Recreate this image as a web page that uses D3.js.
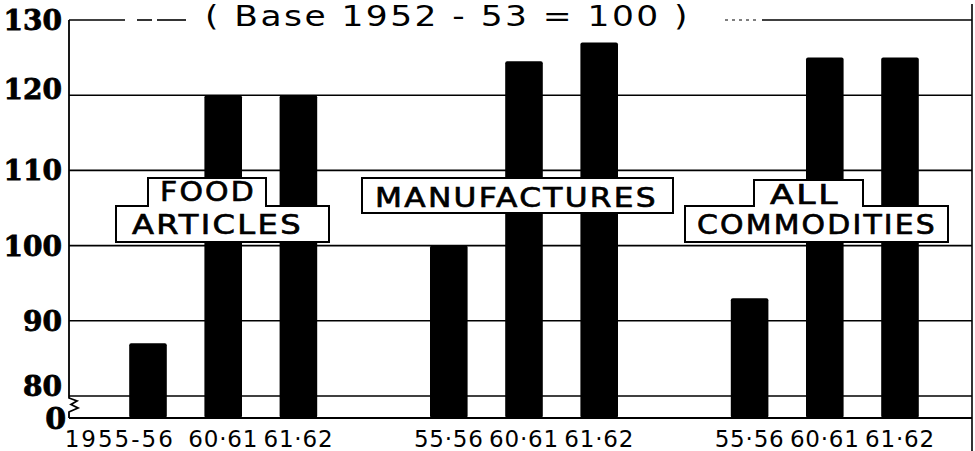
<!DOCTYPE html>
<html><head><meta charset="utf-8">
<script src="https://cdn.jsdelivr.net/npm/d3@7"></script>
<style>body{margin:0;background:#fff}svg{display:block}</style>
</head><body>
<svg id="chart" width="975" height="451"></svg>
<script>
// ---- data ----
const groups = ["Food Articles", "Manufactures", "All Commodities"];
const tickLabels = ["1955-56", "60·61", "61·62", "55·56", "60·61", "61·62", "55·56", "60·61", "61·62"];
const foodArticles = [87, 120, 120];
const manufactures = [100, 124.5, 127];
const allCommodities = [93, 125, 125];
const yTickValues = [80, 90, 100, 110, 120, 130];
const titleText = "( Base  1952 - 53 = 100 )";

(function () {
const series = [foodArticles, manufactures, allCommodities];
const keys = [], bars = [];
series.forEach((vals, g) => {
  if (g > 0) keys.push("gap" + g);
  vals.forEach((v, i) => {
    const k = g + "-" + i;
    keys.push(k);
    bars.push({ key: k, value: v, label: tickLabels[g * 3 + i], group: groups[g] });
  });
});

// ---- layout ----
const svg = d3.select("#chart");
const leftX = 69, rightX = 972, topY = 20, y80 = 396, baseY = 418;
const x = d3.scaleBand().domain(keys).range([110.4, 937.6]).paddingInner(0.5).paddingOuter(0.25);
const y = d3.scaleLinear().domain([80, 130]).range([y80, topY]);

// gridlines (80..120)
svg.append("g").selectAll("line").data(yTickValues.filter(v => v < 130)).join("line")
  .attr("x1", leftX).attr("x2", rightX).attr("y1", d => y(d)).attr("y2", d => y(d))
  .attr("stroke", "#000").attr("stroke-width", 1.6);

// 130 line: broken by title
const topSegs = [[leftX, 125], [137, 152], [157, 186], [762, rightX]];
svg.append("g").selectAll("line").data(topSegs).join("line")
  .attr("x1", d => d[0]).attr("x2", d => d[1]).attr("y1", y(130)).attr("y2", y(130))
  .attr("stroke", "#000").attr("stroke-width", 1.6);
svg.append("line").attr("x1", 725).attr("x2", 760).attr("y1", y(130)).attr("y2", y(130))
  .attr("stroke", "#000").attr("stroke-width", 1.2).attr("stroke-dasharray", "3,4");

// baseline
svg.append("line").attr("x1", leftX).attr("x2", rightX).attr("y1", baseY).attr("y2", baseY)
  .attr("stroke", "#000").attr("stroke-width", 2);

// left axis with break
svg.append("path")
  .attr("d", `M${leftX},${topY} V398 L77,401 L71,404.5 L78,408 L70,411.5 L${leftX},412 V${baseY}`)
  .attr("fill", "none").attr("stroke", "#000").attr("stroke-width", 1.8);
// right border
svg.append("line").attr("x1", rightX).attr("x2", rightX).attr("y1", 4).attr("y2", 451)
  .attr("stroke", "#000").attr("stroke-width", 1.6);

// bars
svg.append("g").selectAll("rect").data(bars).join("rect")
  .attr("x", d => x(d.key)).attr("width", x.bandwidth())
  .attr("y", d => y(d.value)).attr("height", d => baseY - y(d.value))
  .attr("rx", 2).attr("fill", "#000");

// y axis labels
const yFont = g => g.attr("font-family", "'DejaVu Serif', serif").attr("font-weight", "bold")
  .attr("font-size", 28).attr("fill", "#000").attr("stroke", "#000").attr("stroke-width", 0.8);
const yAxis = svg.append("g").attr("transform", `translate(${leftX},0)`)
  .call(d3.axisLeft(y).tickValues(yTickValues).tickSize(0).tickPadding(7).tickFormat(d3.format("d")));
yAxis.select(".domain").remove();
yAxis.selectAll("text").call(yFont)
  .attr("dy", d => d === 80 ? "-0.02em" : (d === 120 ? "0.12em" : "0.34em"));
svg.append("text").attr("x", leftX - 3).attr("y", baseY).attr("dy", "0.36em")
  .attr("text-anchor", "end").call(yFont).attr("font-size", 30).text("0");

// x axis labels
const xAxis = svg.append("g").attr("transform", `translate(0,${baseY})`)
  .call(d3.axisBottom(x).tickValues(bars.map(b => b.key)).tickSize(0)
    .tickFormat(k => bars.find(b => b.key === k).label));
xAxis.select(".domain").remove();
xAxis.selectAll("text")
  .attr("y", 29).attr("dy", 0)
  .attr("font-family", "'DejaVu Sans', sans-serif").attr("font-size", 23)
  .attr("letter-spacing", 0.8).attr("fill", "#000");
// first label is wide: right-align it near its bar
xAxis.selectAll(".tick").filter((d, i) => i === 0).select("text")
  .attr("text-anchor", "end").attr("x", x.bandwidth() / 2 + 8).attr("letter-spacing", 2);

// title
svg.append("text").attr("x", 205).attr("y", 26)
  .attr("font-family", "'DejaVu Sans', sans-serif").attr("font-size", 28)
  .attr("textLength", 485).attr("lengthAdjust", "spacingAndGlyphs")
  .attr("letter-spacing", 2)
  .attr("fill", "#000").text(titleText);

// group label boxes
const labelBoxes = [
  { lines: ["FOOD", "ARTICLES"], upper: [148, 266], lower: [116, 329], t: 178, step: 206, b: 242,
    tx: [160, 132], ty: [201, 234], tw: [96, 171] },
  { lines: ["MANUFACTURES"], upper: [362, 673], lower: [362, 673], t: 178, step: 178, b: 213,
    tx: [375], ty: [207], tw: [283] },
  { lines: ["ALL", "COMMODITIES"], upper: [754, 863], lower: [685, 948], t: 180, step: 206, b: 242,
    tx: [770, 697], ty: [204, 234], tw: [70, 240] }
];
labelBoxes.forEach(L => {
  const p = `M${L.upper[0]},${L.t} H${L.upper[1]} V${L.step} H${L.lower[1]} V${L.b} H${L.lower[0]} V${L.step} H${L.upper[0]} Z`;
  svg.append("path").attr("d", p).attr("fill", "#fff").attr("stroke", "#000").attr("stroke-width", 2);
  L.lines.forEach((s, i) => {
    svg.append("text").attr("x", L.tx[i]).attr("y", L.ty[i])
      .attr("font-family", "'DejaVu Sans', sans-serif").attr("font-size", 27)
      .attr("textLength", L.tw[i]).attr("lengthAdjust", "spacingAndGlyphs")
      .attr("letter-spacing", 2)
      .attr("stroke", "#000").attr("stroke-width", 0.7)
      .attr("fill", "#000").text(s);
  });
});
})();
</script>
</body></html>
